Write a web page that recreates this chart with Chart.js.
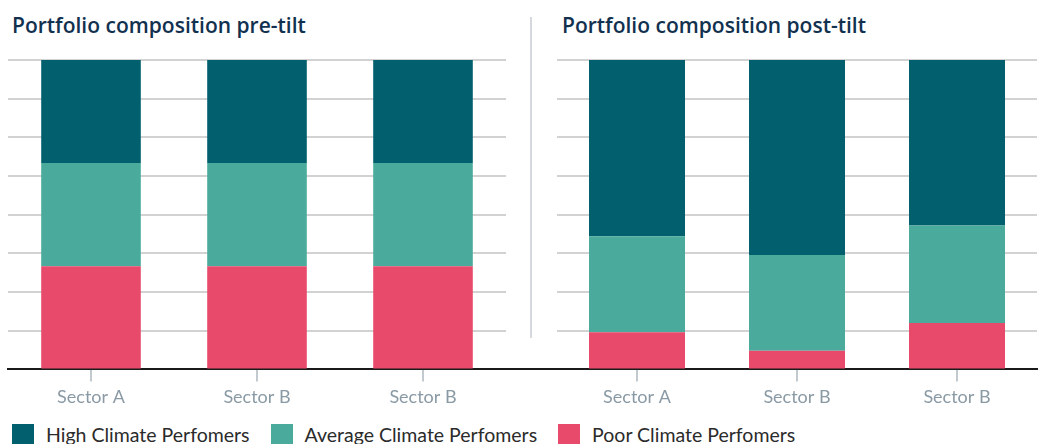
<!DOCTYPE html>
<html lang="en">
<head>
  <meta charset="UTF-8">
  <title>Portfolio composition</title>
  <script src="https://cdn.jsdelivr.net/npm/chart.js"></script>
  <style>
    body { margin: 0; background: #fff; font-family: Lato, sans-serif; }
    #wrap { position: relative; width: 1044px; height: 444px; overflow: hidden; }
    .title { position: absolute; top: 11px; font-family: "Open Sans", sans-serif; font-size: 21px; font-weight: 600; color: #12314f; white-space: nowrap; }
    #divider { position: absolute; left: 530px; top: 17px; width: 2px; height: 321px; background: #d5d9dd; }
    #baseline { position: absolute; left: 500px; top: 368px; width: 70px; height: 2px; background: #1a1a1a; }
    .cv { position: absolute; top: 50px; height: 370px; }
    #legend { position: absolute; left: 12px; top: 423px; display: flex; font-size: 19.5px; color: #2b2b2b; }
    .item { display: flex; align-items: center; margin-right: 21px; }
    .sw { width: 22px; height: 22px; margin-right: 12px; }
  </style>
</head>
<body>
<div id="wrap">
  <div class="title" style="left:12px">Portfolio composition pre-tilt</div>
  <div class="title" style="left:562px">Portfolio composition post-tilt</div>
  <div id="divider"></div>
  <div id="baseline"></div>
  <canvas id="preChart" class="cv" style="left:0;width:531px" width="531" height="370"></canvas>
  <canvas id="postChart" class="cv" style="left:531px;width:513px" width="513" height="370"></canvas>
  <div id="legend"></div>
</div>

<script>
  const categories = ['Sector A', 'Sector B', 'Sector B'];
  const seriesNames = ['High Climate Perfomers', 'Average Climate Perfomers', 'Poor Climate Perfomers'];
  const seriesColors = ['#02606e', '#4aab9d', '#e84a6b'];

  // pre-tilt: equal thirds
  const preHigh = [33.33, 33.33, 33.33];
  const preAvg = [33.33, 33.33, 33.33];
  const prePoor = [33.34, 33.34, 33.34];

  // post-tilt
  const postHigh = [57, 63, 53.5];
  const postAvg = [31, 31, 31.5];
  const postPoor = [12, 6, 15];

  function makeChart(id, high, avg, poor, pad) {
    const ctx = document.getElementById(id).getContext('2d');
    return new Chart(ctx, {
      type: 'bar',
      data: {
        labels: categories,
        datasets: [
          { label: seriesNames[2], data: poor, backgroundColor: seriesColors[2] },
          { label: seriesNames[1], data: avg, backgroundColor: seriesColors[1] },
          { label: seriesNames[0], data: high, backgroundColor: seriesColors[0] }
        ]
      },
      options: {
        responsive: false,
        animation: false,
        layout: { padding: pad },
        categoryPercentage: 1,
        barPercentage: 0.6,
        plugins: { legend: { display: false }, tooltip: { enabled: false } },
        scales: {
          x: {
            stacked: true,
            grid: { offset: false, drawOnChartArea: false, drawTicks: true, tickLength: 12, color: '#c3cacf', lineWidth: 2 },
            border: { color: '#1a1a1a', width: 2 },
            ticks: { color: '#8a9aa5', font: { family: 'Lato', size: 18 }, padding: 5 }
          },
          y: {
            stacked: true,
            min: 0,
            max: 100,
            grid: { color: '#d2d2d2', lineWidth: 2, drawTicks: false },
            border: { display: false },
            ticks: { display: false, stepSize: 12.5 }
          }
        }
      }
    });
  }

  makeChart('preChart', preHigh, preAvg, prePoor, { left: 8, right: 25, top: 10, bottom: 7 });
  makeChart('postChart', postHigh, postAvg, postPoor, { left: 26, right: 7, top: 10, bottom: 7 });

  const legend = document.getElementById('legend');
  seriesNames.forEach((name, i) => {
    const item = document.createElement('div');
    item.className = 'item';
    item.innerHTML = '<span class="sw" style="background:' + seriesColors[i] + '"></span><span>' + name + '</span>';
    legend.appendChild(item);
  });
</script>
</body>
</html>
